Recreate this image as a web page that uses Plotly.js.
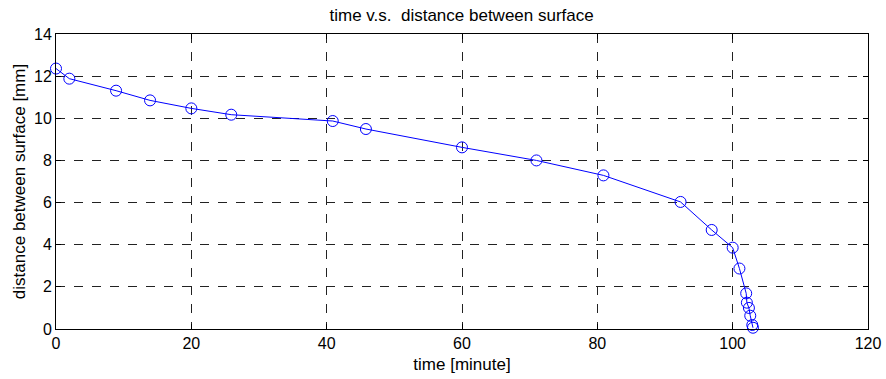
<!DOCTYPE html>
<html>
<head>
<meta charset="utf-8">
<script src="https://cdn.plot.ly/plotly-3.0.1.min.js"></script>
<style>html,body{margin:0;padding:0;background:#fff;}#chart{width:886px;height:379px;}</style>
</head>
<body>
<div id="chart"></div>
<script>
const timeMinutes = [0, 1.97, 8.88, 13.9, 20.0, 25.9, 40.9, 45.8, 60.0, 71.0, 80.9, 92.3, 96.9, 100.0, 101.0, 102.0, 102.1, 102.4, 102.6, 102.9, 103.0];
const distanceMm = [12.36, 11.88, 11.31, 10.85, 10.47, 10.17, 9.87, 9.49, 8.62, 8.0, 7.29, 6.03, 4.70, 3.86, 2.87, 1.69, 1.25, 1.0, 0.63, 0.19, 0.06];
const xTicks = [0, 20, 40, 60, 80, 100, 120];
const yTicks = [0, 2, 4, 6, 8, 10, 12, 14];

const fam = 'Liberation Sans, Arial, sans-serif';
const tickFont = {family: fam, size: 16, color: '#000'};
const titleFont = {family: fam, size: 17, color: '#000'};
const axisCommon = {
  showline: true, linecolor: '#000', linewidth: 1, mirror: 'ticks',
  ticks: 'inside', ticklen: 5, tickcolor: '#000', tickwidth: 1,
  showgrid: true, gridcolor: '#222', gridwidth: 1, griddash: 'dash',
  zeroline: false, tickfont: tickFont
};

Plotly.newPlot('chart', [{
  x: timeMinutes, y: distanceMm, type: 'scatter', mode: 'lines+markers',
  line: {color: '#0000ff', width: 1},
  marker: {symbol: 'circle-open', size: 11, color: '#0000ff', line: {width: 1, color: '#0000ff'}},
  cliponaxis: false
}], {
  width: 886, height: 379,
  margin: {l: 56, r: 18, t: 34, b: 50},
  paper_bgcolor: '#fff', plot_bgcolor: '#fff',
  showlegend: false,
  font: tickFont,
  title: {text: 'time v.s.&nbsp; distance between surface', font: titleFont, x: 0.521, xanchor: 'center', y: 0.96, yanchor: 'middle'},
  xaxis: Object.assign({}, axisCommon, {range: [0, 120], tickvals: xTicks, ticktext: xTicks.map(String),
    title: {text: 'time [minute]', font: titleFont, standoff: 6}}),
  yaxis: Object.assign({}, axisCommon, {range: [0, 14], tickvals: yTicks, ticktext: yTicks.map(String),
    title: {text: 'distance between surface [mm]', font: titleFont, standoff: 4}})
}, {staticPlot: true});
</script>
</body>
</html>
